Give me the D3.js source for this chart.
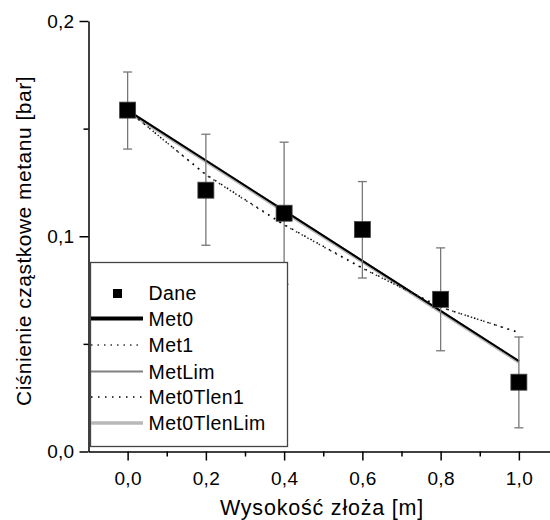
<!DOCTYPE html>
<html>
<head>
<meta charset="utf-8">
<script src="https://cdn.jsdelivr.net/npm/d3@7"></script>
<style>
  body { margin: 0; background: #fff; }
  svg { font-family: "Liberation Sans", Arial, sans-serif; }
</style>
</head>
<body>
<script>
// measured data
const heights = [0.0, 0.2, 0.4, 0.6, 0.8, 1.0];
const dane = [0.1586, 0.1214, 0.1107, 0.1031, 0.0707, 0.0322];
const errLow = [0.1405, 0.0958, 0.0777, 0.0806, 0.0468, 0.0110];
const errHigh = [0.1763, 0.1474, 0.1437, 0.1254, 0.0946, 0.0532];

const met0 = [0.1585, 0.1352, 0.1119, 0.0886, 0.0653, 0.0420];
const met1 = [0.1586, 0.1285, 0.1052, 0.0851, 0.0670, 0.0553];
const metLim = [0.1587, 0.1354, 0.1120, 0.0887, 0.0654, 0.0421];
const met0Tlen1 = [0.1584, 0.1287, 0.1054, 0.0853, 0.0671, 0.0552];
const met0TlenLim = [0.1581, 0.1348, 0.1115, 0.0882, 0.0649, 0.0416];

const xTicks = [0.0, 0.2, 0.4, 0.6, 0.8, 1.0];
const xMinor = [0.1, 0.3, 0.5, 0.7, 0.9];
const yTicks = [0.0, 0.1, 0.2];
const yMinor = [0.05, 0.15];

const W = 550, H = 520;
const svg = d3.select("body").append("svg").attr("width", W).attr("height", H);

const x = d3.scaleLinear().domain([-0.1, 1.1]).range([88.5, 558]);
const y = d3.scaleLinear().domain([0, 0.2]).range([451.5, 21]);

const pl = d3.formatLocale({ decimal: ",", thousands: ".", grouping: [3], currency: ["", ""] });
const fmt = pl.format(".1f");

// axes
const xAxis = svg.append("g").attr("transform", `translate(0,${y(0)})`)
  .call(d3.axisBottom(x).tickValues(xTicks).tickFormat(fmt).tickSize(9).tickSizeOuter(0));
svg.append("g").attr("transform", `translate(0,${y(0)})`)
  .call(d3.axisBottom(x).tickValues(xMinor).tickFormat("").tickSize(5).tickSizeOuter(0))
  .select(".domain").remove();
const yAxis = svg.append("g").attr("transform", `translate(${x(-0.1)},0)`)
  .call(d3.axisLeft(y).tickValues(yTicks).tickFormat(fmt).tickSize(9).tickSizeOuter(0));
svg.append("g").attr("transform", `translate(${x(-0.1)},0)`)
  .call(d3.axisLeft(y).tickValues(yMinor).tickFormat("").tickSize(5).tickSizeOuter(0))
  .select(".domain").remove();

svg.selectAll(".domain").attr("stroke", "#000").attr("stroke-width", 1.5);
svg.selectAll(".tick line").attr("stroke", "#000").attr("stroke-width", 1.5);
xAxis.selectAll(".tick text").attr("font-size", 19).attr("fill", "#000").attr("dy", "1.15em")
  .attr("letter-spacing", 0.3);
yAxis.selectAll(".tick text").attr("font-size", 19).attr("fill", "#000").attr("x", -14)
  .attr("letter-spacing", 0.3);

// axis titles
svg.append("text")
  .attr("x", 322).attr("y", 515)
  .attr("text-anchor", "middle")
  .attr("font-size", 21.5)
  .attr("letter-spacing", 0.8)
  .text("Wysokość złoża [m]");
svg.append("text")
  .attr("transform", `translate(31,${241}) rotate(-90)`)
  .attr("text-anchor", "middle")
  .attr("font-size", 21)
  .attr("letter-spacing", 0.5)
  .text("Ciśnienie cząstkowe metanu [bar]");

// model lines
const series = [
  { name: "Met0TlenLim", values: met0TlenLim, color: "#b8b8b8", width: 3.5, dash: null, legendWidth: 3.5 },
  { name: "MetLim", values: metLim, color: "#808080", width: 1.5, dash: null, legendWidth: 2 },
  { name: "Met0", values: met0, color: "#000", width: 2, dash: null, legendWidth: 4 },
  { name: "Met1", values: met1, color: "#333", width: 1.5, dash: "1.5,5", legendWidth: 1.5 },
  { name: "Met0Tlen1", values: met0Tlen1, color: "#000", width: 1.5, dash: "1.5,5.5", legendWidth: 1.5 }
];

const line = d3.line().x((d, i) => x(heights[i])).y(d => y(d));

svg.selectAll(".model")
  .data(series)
  .enter()
  .append("path")
  .attr("class", "model")
  .attr("d", d => line(d.values))
  .attr("fill", "none")
  .attr("stroke", d => d.color)
  .attr("stroke-width", d => d.width)
  .attr("stroke-dasharray", d => d.dash);

// error bars
const eb = svg.append("g").attr("stroke", "#777").attr("stroke-width", 1.3);
heights.forEach((h, i) => {
  const cx = x(h);
  eb.append("line").attr("x1", cx).attr("x2", cx).attr("y1", y(errLow[i])).attr("y2", y(errHigh[i]));
  eb.append("line").attr("x1", cx - 4.5).attr("x2", cx + 4.5).attr("y1", y(errLow[i])).attr("y2", y(errLow[i]));
  eb.append("line").attr("x1", cx - 4.5).attr("x2", cx + 4.5).attr("y1", y(errHigh[i])).attr("y2", y(errHigh[i]));
});

// data squares
const sq = 16;
svg.selectAll(".pt")
  .data(dane)
  .enter()
  .append("rect")
  .attr("class", "pt")
  .attr("x", (d, i) => x(heights[i]) - sq / 2)
  .attr("y", d => y(d) - sq / 2)
  .attr("width", sq).attr("height", sq)
  .attr("fill", "#000")
  .attr("stroke", "#444").attr("stroke-width", 0.8);

// legend
const lg = svg.append("g");
lg.append("rect")
  .attr("x", 90.5).attr("y", 262.5).attr("width", 197).attr("height", 184)
  .attr("fill", "#fff").attr("stroke", "#444").attr("stroke-width", 1.3);

const rowY = [293, 318.5, 345, 371.5, 397, 423];
lg.append("rect").attr("x", 113).attr("y", rowY[0] - 4).attr("width", 9).attr("height", 9).attr("fill", "#000");
lg.append("text").attr("x", 148.5).attr("y", rowY[0] + 7).attr("font-size", 19.5)
  .attr("letter-spacing", 0.4).text("Dane");

const legendOrder = ["Met0", "Met1", "MetLim", "Met0Tlen1", "Met0TlenLim"];
legendOrder.forEach((name, k) => {
  const s = series.find(d => d.name === name);
  const yy = rowY[k + 1];
  lg.append("line")
    .attr("x1", 91).attr("x2", 143).attr("y1", yy).attr("y2", yy)
    .attr("stroke", s.color)
    .attr("stroke-width", s.legendWidth)
    .attr("stroke-dasharray", s.dash);
  lg.append("text").attr("x", 148.5).attr("y", yy + 7).attr("font-size", 19.5)
    .attr("letter-spacing", 0.4).text(name);
});
</script>
</body>
</html>
